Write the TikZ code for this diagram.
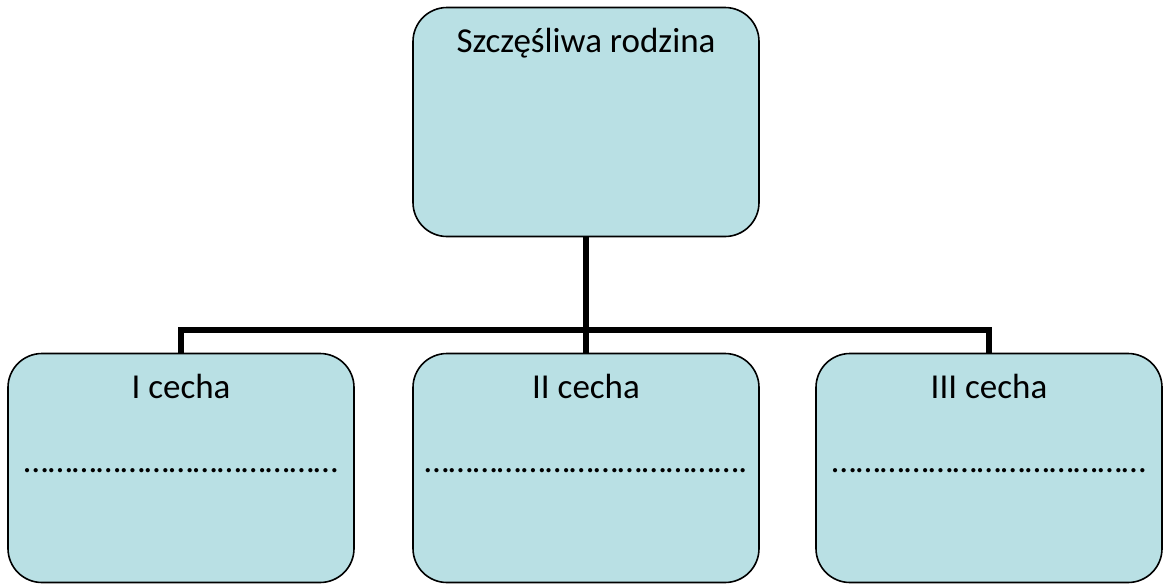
\documentclass[tikz,border=0pt]{standalone}
\usepackage{fontspec}
\setmainfont{Carlito}
\usetikzlibrary{positioning}
\definecolor{boxfill}{RGB}{185,224,228}
\tikzset{
  featbox/.style={draw=black, line width=1.6pt, fill=boxfill, rounded corners=34pt,
    minimum width=346pt, minimum height=229pt, inner sep=0pt},
  boxtext/.style={anchor=base, inner sep=0pt, font=\fontsize{35}{42}\selectfont},
  link/.style={draw=black, line width=5.5pt}
}
\begin{document}
\begin{tikzpicture}[x=1pt, y=-1pt]
\useasboundingbox (0,0) rectangle (1164,584);
% boxes
\node[featbox] (family) at (586,122) {};
\node[featbox] (first) at (181,468) {};
\node[featbox] (second) at (586,468) {};
\node[featbox] (third) at (989,468) {};
% titles
\node[boxtext] (familyT) at ([yshift=-46pt]family.north) {Szczęśliwa rodzina};
\node[boxtext] (firstT) at ([yshift=-46pt]first.north) {I cecha};
\node[boxtext] (secondT) at ([yshift=-46pt]second.north) {II cecha};
\node[boxtext] (thirdT) at ([yshift=-46pt]third.north) {III cecha};
% blanks
\node[boxtext] (firstD) at ([yshift=-120pt]first.north) {…………………………………};
\node[boxtext] (secondD) at ([yshift=-120pt]second.north) {………………………………….};
\node[boxtext] (thirdD) at ([yshift=-120pt]third.north) {…………………………………};
% tree
\coordinate (hub) at (586,330);
\draw[link] (family.south) -- (hub);
\draw[link] (first.north) |- (hub) -| (third.north);
\draw[link] (hub) -- (second.north);
\end{tikzpicture}
\end{document}
